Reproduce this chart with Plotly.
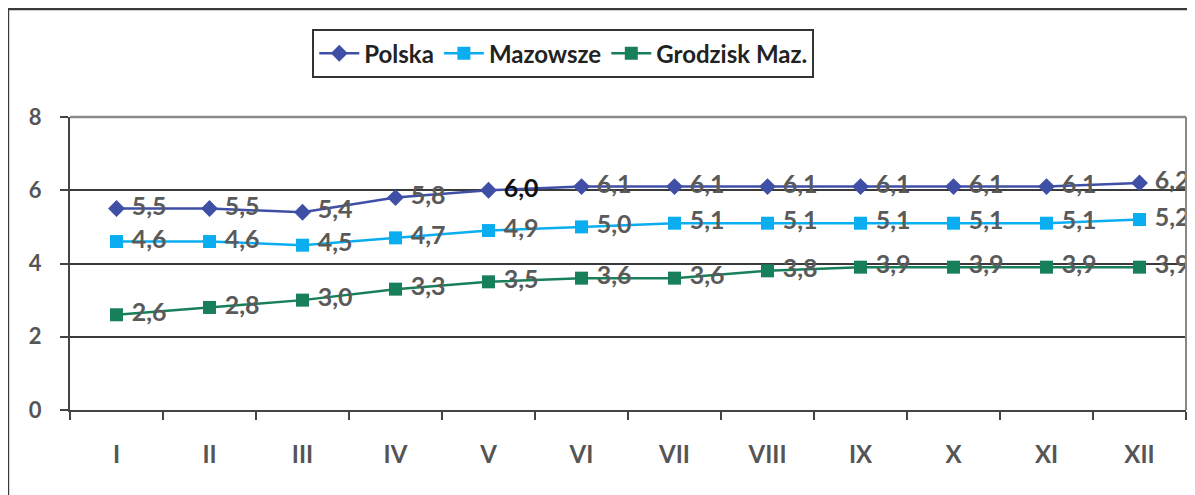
import plotly.graph_objects as go

months = ["I", "II", "III", "IV", "V", "VI", "VII", "VIII", "IX", "X", "XI", "XII"]
polska = [5.5, 5.5, 5.4, 5.8, 6.0, 6.1, 6.1, 6.1, 6.1, 6.1, 6.1, 6.2]
mazowsze = [4.6, 4.6, 4.5, 4.7, 4.9, 5.0, 5.1, 5.1, 5.1, 5.1, 5.1, 5.2]
grodzisk = [2.6, 2.8, 3.0, 3.3, 3.5, 3.6, 3.6, 3.8, 3.9, 3.9, 3.9, 3.9]
y_ticks = [0, 2, 4, 6, 8]

FONT = "Lato"
LABEL_GREY = "#5a5a5a"

series = [
    ("Polska", polska, "#3f4fa6", "diamond", 13),
    ("Mazowsze", mazowsze, "#0aaef0", "square", 13),
    ("Grodzisk Maz.", grodzisk, "#177f5a", "square", 13),
]

fig = go.Figure()
for name, vals, col, sym, size in series:
    tcolors = [LABEL_GREY] * len(vals)
    if name == "Polska":
        tcolors[4] = "#111111"
    fig.add_trace(go.Scatter(
        x=months, y=vals, name=name, mode="lines+markers+text",
        line=dict(color=col, width=2.5),
        marker=dict(symbol=sym, size=size, color=col),
        texttemplate=" %{y:.1f}", textposition="middle right",
        textfont=dict(family=FONT, size=25, color=tcolors, weight="bold"),
        cliponaxis=False,
    ))

fig.update_layout(
    width=1187, height=487,
    margin=dict(l=62, r=9, t=109, b=85, autoexpand=False),
    paper_bgcolor="white", plot_bgcolor="white",
    separators=",.",
    font=dict(family=FONT, color=LABEL_GREY),
    showlegend=True,
    legend=dict(
        orientation="h", x=0.442, xanchor="center", y=1.30, yanchor="top",
        bordercolor="#333333", borderwidth=2, bgcolor="white",
        font=dict(family=FONT, size=24, color="#222222", weight="bold"),
        itemwidth=40, tracegroupgap=0,
    ),
    xaxis=dict(
        type="category", categoryorder="array", categoryarray=months,
        tickson="boundaries", ticks="outside", ticklen=8, tickwidth=2,
        tickcolor="#444444", showline=True, linecolor="#444444", linewidth=2,
        showgrid=False, ticklabelstandoff=22,
        tickfont=dict(family=FONT, size=24, color="#555555", weight="bold"),
        range=[-0.5, 11.5],
    ),
    yaxis=dict(
        range=[0, 8], tickvals=y_ticks, ticks="outside", ticklen=8, tickwidth=2,
        tickcolor="#444444", showline=True, linecolor="#444444", linewidth=2,
        showgrid=True, gridcolor="#3a3a3a", gridwidth=2, zeroline=False,
        ticklabelstandoff=14,
        tickfont=dict(family=FONT, size=22, color="#555555", weight="bold"),
    ),
    shapes=[
        dict(type="rect", xref="paper", yref="paper", x0=-0.0556, x1=1.0063,
             y0=-0.32, y1=1.3686, line=dict(color="#3a3a3a", width=2.5)),
        dict(type="line", xref="paper", yref="paper", x0=1, x1=1, y0=0, y1=1,
             line=dict(color="#888888", width=2)),
        dict(type="line", xref="paper", yref="paper", x0=0, x1=1, y0=1, y1=1,
             line=dict(color="#8a8a8a", width=2.5)),
    ],
)

fig.write_html("out.html")
